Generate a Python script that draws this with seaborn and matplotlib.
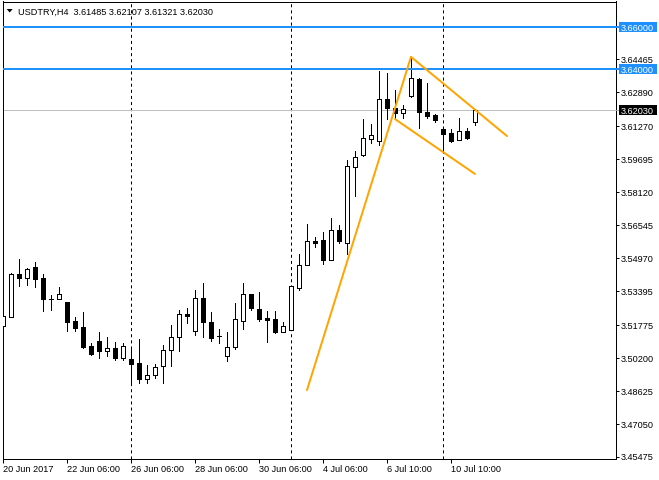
import matplotlib
matplotlib.use("Agg")
import matplotlib.pyplot as plt
import matplotlib.patches as mpatches
import matplotlib.transforms as mtransforms
import numpy as np
import pandas as pd
import seaborn as sns

# ---------------- data (USDTRY, H4) ----------------
opens = [3.5173, 3.5217, 3.5421, 3.5404, 3.5453, 3.5402, 3.5303, 3.5303, 3.5288, 3.5197,
         3.5167, 3.5076, 3.5101, 3.5055, 3.5067, 3.5020, 3.5014, 3.4995, 3.4921, 3.4941,
         3.4983, 3.5057, 3.5122, 3.5232, 3.5151, 3.5305, 3.5191, 3.5124, 3.5028, 3.5071,
         3.5198, 3.5324, 3.5253, 3.5210, 3.5205, 3.5146, 3.5156, 3.5356, 3.5463, 3.5579,
         3.5582, 3.5490, 3.5630, 3.5568, 3.5931, 3.5988, 3.6067, 3.6055, 3.6256, 3.6214,
         3.6189, 3.6271, 3.6352, 3.6194, 3.6181, 3.6116, 3.6093, 3.6060, 3.6104, 3.61485]
highs = [3.5254, 3.5426, 3.5493, 3.5449, 3.5480, 3.5421, 3.5321, 3.5361, 3.5290, 3.5217,
         3.5240, 3.5090, 3.5146, 3.5119, 3.5095, 3.5090, 3.5063, 3.5110, 3.4987, 3.4992,
         3.5082, 3.5178, 3.5249, 3.5259, 3.5345, 3.5377, 3.5240, 3.5157, 3.5144, 3.5281,
         3.5377, 3.5326, 3.5335, 3.5243, 3.5243, 3.5191, 3.5365, 3.5517, 3.5660, 3.5597,
         3.5622, 3.5689, 3.5655, 3.5966, 3.6009, 3.6160, 3.6136, 3.6391, 3.6381, 3.6302,
         3.6226, 3.6455, 3.6356, 3.6333, 3.6187, 3.6117, 3.6116, 3.6166, 3.6117, 3.62107]
lows = [3.5144, 3.5216, 3.5365, 3.5370, 3.5361, 3.5245, 3.5249, 3.5301, 3.5149, 3.5149,
        3.5069, 3.5036, 3.5020, 3.5030, 3.5011, 3.5011, 3.4902, 3.4902, 3.4901, 3.4926,
        3.4899, 3.4983, 3.5055, 3.5186, 3.5131, 3.5122, 3.5103, 3.5090, 3.5007, 3.5065,
        3.5160, 3.5249, 3.5198, 3.5098, 3.5138, 3.5142, 3.5154, 3.5345, 3.5462, 3.5552,
        3.5470, 3.5489, 3.5571, 3.5517, 3.5795, 3.5987, 3.6048, 3.6039, 3.6162, 3.6160,
        3.6165, 3.6268, 3.6120, 3.6165, 3.6149, 3.6004, 3.6054, 3.6059, 3.6068, 3.61321]
closes = [3.5221, 3.5421, 3.5404, 3.5444, 3.5399, 3.5303, 3.5303, 3.5326, 3.5194, 3.5165,
          3.5073, 3.5041, 3.5055, 3.5068, 3.5020, 3.5078, 3.4993, 3.4921, 3.4938, 3.4977,
          3.5058, 3.5119, 3.5230, 3.5222, 3.5305, 3.5191, 3.5117, 3.5124, 3.5074, 3.5205,
          3.5324, 3.5260, 3.5208, 3.5202, 3.5144, 3.5175, 3.5363, 3.5463, 3.5577, 3.5571,
          3.5490, 3.5630, 3.5580, 3.5936, 3.5981, 3.6069, 3.6083, 3.6256, 3.6212, 3.6188,
          3.6208, 3.6355, 3.6195, 3.6177, 3.6159, 3.6088, 3.6058, 3.6104, 3.6069, 3.62030]

time_tick_bars = [0, 8, 16, 24, 32, 40, 48, 56]
time_tick_labels = ["20 Jun 2017", "22 Jun 06:00", "26 Jun 06:00", "28 Jun 06:00",
                    "30 Jun 06:00", "4 Jul 06:00", "6 Jul 10:00", "10 Jul 10:00"]
price_ticks = [3.64465, 3.62890, 3.61270, 3.59695, 3.58120, 3.56545, 3.54970,
               3.53395, 3.51775, 3.50200, 3.48625, 3.47050, 3.45475]
separator_bars = [16, 36, 55]
level_prices = [3.66000, 3.64000]
bid_price = 3.62030
wedge_x = [[38, 51], [51, 63], [49, 59]]
wedge_y = [[3.4867, 3.6458], [3.6458, 3.6080], [3.6161, 3.5899]]
title_text = "USDTRY,H4  3.61485 3.62107 3.61321 3.62030"

# ---------------- style ----------------
sns.set_style("white")
plt.rcParams['font.family'] = ['Liberation Sans', 'DejaVu Sans']
plt.rcParams['lines.scale_dashes'] = False

W, H = 659, 480
PX = 0.72  # one pixel in points at dpi 100
FS = 6.6

df = pd.DataFrame(dict(bar=np.arange(len(opens)), open=opens, high=highs,
                       low=lows, close=closes))
df["up"] = df["close"] >= df["open"]

fig = plt.figure(figsize=(W / 100, H / 100), dpi=100)
ax_l, ax_r, ax_b, ax_t = 2.5, 616, 459, 1.5
ax = fig.add_axes([ax_l / W, 1 - ax_b / H, (ax_r - ax_l) / W, (ax_b - ax_t) / H])

# separators
for xb in separator_bars:
    ax.axvline(xb, color="black", lw=PX, ls=(0, (2.2, 2.2)), zorder=1)

# bid line
ax.axhline(bid_price, color="#c0c0c0", lw=PX, zorder=1)

# candles
ax.vlines(df["bar"], df["low"], df["high"], color="black", lw=PX, zorder=2,
          antialiased=False)
body_bottom = np.minimum(df["open"], df["close"])
body_height = (df["open"] - df["close"]).abs()
ax.bar(df["bar"], body_height, bottom=body_bottom, width=0.5,
       color=np.where(df["up"], "white", "black"), edgecolor="black",
       linewidth=PX, zorder=3, antialiased=False)

# horizontal levels
for p in level_prices:
    ax.axhline(p, color="#1e90ff", lw=2 * PX, zorder=4)

# wedge / trend lines
for xs, ys in zip(wedge_x, wedge_y):
    sns.lineplot(x=xs, y=ys, ax=ax, color="#ffa500", lw=2 * PX, estimator=None,
                 sort=False, zorder=5)

# axes limits (pixel-calibrated)
ppx = 0.0004775
ax.set_ylim(3.45475 - (ax_b - 457) * ppx, 3.45475 + (457 - ax_t) * ppx)
ax.set_xlim((ax_l - 3) / 8, (ax_r - 3) / 8)

# y axis on right
ax.yaxis.tick_right()
ax.set_yticks(price_ticks, labels=[f"{p:.5f}" for p in price_ticks])
ax.tick_params(axis="y", direction="out", length=3 * PX, width=PX, pad=1.5,
               labelsize=FS, colors="black", left=False, right=True)

# x axis
ax.set_xticks(time_tick_bars, labels=time_tick_labels)
ax.tick_params(axis="x", direction="out", length=3.5 * PX, width=PX, pad=1.5,
               labelsize=FS, colors="black", bottom=True)
for lab in ax.get_xticklabels():
    lab.set_horizontalalignment("left")

for s in ax.spines.values():
    s.set_color("black")
    s.set_linewidth(PX)

# highlighted price labels on the right axis
ytrans = ax.get_yaxis_transform()
axw = ax_r - ax_l
box_items = [(p, "#1e90ff") for p in level_prices] + [(bid_price, "black")]
for p, col in box_items:
    ax.plot([1.0, 1.0 + 3 / axw], [p, p], transform=ytrans, clip_on=False,
            color=col if col != "black" else "#c0c0c0", lw=2 * PX if col != "black" else PX,
            zorder=9)
    ax.add_patch(mpatches.Rectangle((1.0 + 3 / axw, p - 4.8 * ppx), 38 / axw, 9.6 * ppx,
                                    transform=ytrans, clip_on=False, facecolor=col,
                                    edgecolor="none", zorder=10))
    ax.text(1.0 + 4.5 / axw, p, f"{p:.5f}", transform=ytrans, ha="left",
            va="center_baseline", color="white", fontsize=FS, zorder=11, clip_on=False)

# title with triangle
fig.patches.append(mpatches.Polygon([(6.7 / W, 1 - 9 / H), (12.7 / W, 1 - 9 / H),
                                     (9.7 / W, 1 - 12.5 / H)], closed=True,
                                    transform=fig.transFigure, facecolor="black",
                                    edgecolor="none"))
fig.text(18.3 / W, 1 - 11 / H, title_text, ha="left", va="center_baseline",
         fontsize=FS, color="black")

fig.savefig("out.png", dpi=100)
